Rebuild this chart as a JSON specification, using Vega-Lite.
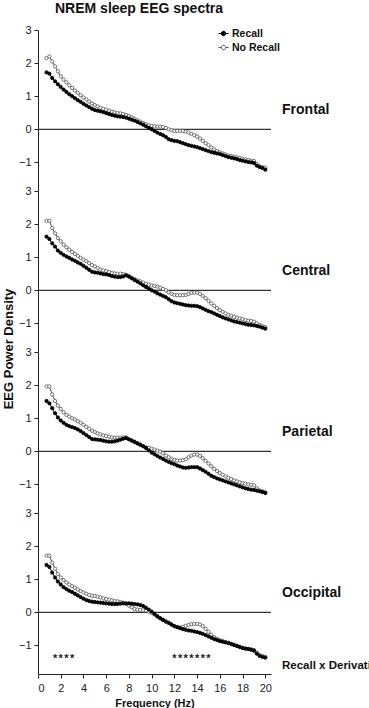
{
"$schema": "https://vega.github.io/schema/vega-lite/v6.json",
"padding": {"left": 2, "top": 2, "right": 0, "bottom": 0},
"background": "white",
"bounds": "flush",
"title": {"text": "NREM  sleep EEG spectra", "anchor": "start", "dx": 52, "fontSize": 14, "font": "Liberation Sans", "fontWeight": "bold", "color": "#111", "offset": 8},
"data": {"values": [
{"r":"Frontal","zero":0},{"r":"Central","zero":0},{"r":"Parietal","zero":0},{"r":"Occipital","zero":0},
{"r":"Frontal","f":0.75,"Recall":1.72,"No Recall":2.15},
{"r":"Frontal","f":1,"Recall":1.68,"No Recall":2.2},
{"r":"Frontal","f":1.25,"Recall":1.55,"No Recall":2.05},
{"r":"Frontal","f":1.5,"Recall":1.45,"No Recall":1.9},
{"r":"Frontal","f":1.75,"Recall":1.36,"No Recall":1.75},
{"r":"Frontal","f":2,"Recall":1.28,"No Recall":1.6},
{"r":"Frontal","f":2.25,"Recall":1.2,"No Recall":1.5},
{"r":"Frontal","f":2.5,"Recall":1.13,"No Recall":1.42},
{"r":"Frontal","f":2.75,"Recall":1.06,"No Recall":1.33},
{"r":"Frontal","f":3,"Recall":1.0,"No Recall":1.25},
{"r":"Frontal","f":3.25,"Recall":0.94,"No Recall":1.17},
{"r":"Frontal","f":3.5,"Recall":0.88,"No Recall":1.1},
{"r":"Frontal","f":3.75,"Recall":0.83,"No Recall":1.03},
{"r":"Frontal","f":4,"Recall":0.77,"No Recall":0.96},
{"r":"Frontal","f":4.25,"Recall":0.72,"No Recall":0.9},
{"r":"Frontal","f":4.5,"Recall":0.67,"No Recall":0.84},
{"r":"Frontal","f":4.75,"Recall":0.62,"No Recall":0.78},
{"r":"Frontal","f":5,"Recall":0.58,"No Recall":0.73},
{"r":"Frontal","f":5.25,"Recall":0.56,"No Recall":0.69},
{"r":"Frontal","f":5.5,"Recall":0.54,"No Recall":0.65},
{"r":"Frontal","f":5.75,"Recall":0.52,"No Recall":0.62},
{"r":"Frontal","f":6,"Recall":0.49,"No Recall":0.59},
{"r":"Frontal","f":6.25,"Recall":0.46,"No Recall":0.56},
{"r":"Frontal","f":6.5,"Recall":0.43,"No Recall":0.53},
{"r":"Frontal","f":6.75,"Recall":0.41,"No Recall":0.51},
{"r":"Frontal","f":7,"Recall":0.39,"No Recall":0.49},
{"r":"Frontal","f":7.25,"Recall":0.38,"No Recall":0.48},
{"r":"Frontal","f":7.5,"Recall":0.37,"No Recall":0.46},
{"r":"Frontal","f":7.75,"Recall":0.35,"No Recall":0.43},
{"r":"Frontal","f":8,"Recall":0.32,"No Recall":0.4},
{"r":"Frontal","f":8.25,"Recall":0.29,"No Recall":0.36},
{"r":"Frontal","f":8.5,"Recall":0.26,"No Recall":0.32},
{"r":"Frontal","f":8.75,"Recall":0.22,"No Recall":0.27},
{"r":"Frontal","f":9,"Recall":0.18,"No Recall":0.23},
{"r":"Frontal","f":9.25,"Recall":0.14,"No Recall":0.19},
{"r":"Frontal","f":9.5,"Recall":0.09,"No Recall":0.15},
{"r":"Frontal","f":9.75,"Recall":0.04,"No Recall":0.12},
{"r":"Frontal","f":10,"Recall":0.0,"No Recall":0.1},
{"r":"Frontal","f":10.25,"Recall":-0.05,"No Recall":0.09},
{"r":"Frontal","f":10.5,"Recall":-0.1,"No Recall":0.08},
{"r":"Frontal","f":10.75,"Recall":-0.14,"No Recall":0.08},
{"r":"Frontal","f":11,"Recall":-0.18,"No Recall":0.07},
{"r":"Frontal","f":11.25,"Recall":-0.23,"No Recall":0.04},
{"r":"Frontal","f":11.5,"Recall":-0.3,"No Recall":0.0},
{"r":"Frontal","f":11.75,"Recall":-0.33,"No Recall":-0.03},
{"r":"Frontal","f":12,"Recall":-0.35,"No Recall":-0.05},
{"r":"Frontal","f":12.25,"Recall":-0.36,"No Recall":-0.05},
{"r":"Frontal","f":12.5,"Recall":-0.39,"No Recall":-0.05},
{"r":"Frontal","f":12.75,"Recall":-0.42,"No Recall":-0.05},
{"r":"Frontal","f":13,"Recall":-0.45,"No Recall":-0.07},
{"r":"Frontal","f":13.25,"Recall":-0.48,"No Recall":-0.1},
{"r":"Frontal","f":13.5,"Recall":-0.5,"No Recall":-0.14},
{"r":"Frontal","f":13.75,"Recall":-0.52,"No Recall":-0.18},
{"r":"Frontal","f":14,"Recall":-0.54,"No Recall":-0.22},
{"r":"Frontal","f":14.25,"Recall":-0.57,"No Recall":-0.28},
{"r":"Frontal","f":14.5,"Recall":-0.6,"No Recall":-0.35},
{"r":"Frontal","f":14.75,"Recall":-0.63,"No Recall":-0.42},
{"r":"Frontal","f":15,"Recall":-0.66,"No Recall":-0.48},
{"r":"Frontal","f":15.25,"Recall":-0.69,"No Recall":-0.55},
{"r":"Frontal","f":15.5,"Recall":-0.71,"No Recall":-0.61},
{"r":"Frontal","f":15.75,"Recall":-0.73,"No Recall":-0.66},
{"r":"Frontal","f":16,"Recall":-0.75,"No Recall":-0.7},
{"r":"Frontal","f":16.25,"Recall":-0.78,"No Recall":-0.73},
{"r":"Frontal","f":16.5,"Recall":-0.81,"No Recall":-0.76},
{"r":"Frontal","f":16.75,"Recall":-0.84,"No Recall":-0.79},
{"r":"Frontal","f":17,"Recall":-0.86,"No Recall":-0.81},
{"r":"Frontal","f":17.25,"Recall":-0.88,"No Recall":-0.83},
{"r":"Frontal","f":17.5,"Recall":-0.9,"No Recall":-0.85},
{"r":"Frontal","f":17.75,"Recall":-0.93,"No Recall":-0.87},
{"r":"Frontal","f":18,"Recall":-0.95,"No Recall":-0.89},
{"r":"Frontal","f":18.25,"Recall":-0.97,"No Recall":-0.91},
{"r":"Frontal","f":18.5,"Recall":-0.99,"No Recall":-0.93},
{"r":"Frontal","f":18.75,"Recall":-1.0,"No Recall":-0.95},
{"r":"Frontal","f":19,"Recall":-1.02,"No Recall":-0.96},
{"r":"Frontal","f":19.25,"Recall":-1.1,"No Recall":-1.05},
{"r":"Frontal","f":19.5,"Recall":-1.14,"No Recall":-1.12},
{"r":"Frontal","f":19.75,"Recall":-1.17,"No Recall":-1.15},
{"r":"Frontal","f":20,"Recall":-1.22,"No Recall":-1.16},
{"r":"Central","f":0.75,"Recall":1.62,"No Recall":2.1},
{"r":"Central","f":1,"Recall":1.55,"No Recall":2.1},
{"r":"Central","f":1.25,"Recall":1.42,"No Recall":1.88},
{"r":"Central","f":1.5,"Recall":1.32,"No Recall":1.72},
{"r":"Central","f":1.75,"Recall":1.2,"No Recall":1.58},
{"r":"Central","f":2,"Recall":1.13,"No Recall":1.48},
{"r":"Central","f":2.25,"Recall":1.07,"No Recall":1.38},
{"r":"Central","f":2.5,"Recall":1.02,"No Recall":1.3},
{"r":"Central","f":2.75,"Recall":0.98,"No Recall":1.23},
{"r":"Central","f":3,"Recall":0.93,"No Recall":1.16},
{"r":"Central","f":3.25,"Recall":0.89,"No Recall":1.1},
{"r":"Central","f":3.5,"Recall":0.84,"No Recall":1.04},
{"r":"Central","f":3.75,"Recall":0.8,"No Recall":0.98},
{"r":"Central","f":4,"Recall":0.74,"No Recall":0.93},
{"r":"Central","f":4.25,"Recall":0.68,"No Recall":0.88},
{"r":"Central","f":4.5,"Recall":0.62,"No Recall":0.82},
{"r":"Central","f":4.75,"Recall":0.56,"No Recall":0.76},
{"r":"Central","f":5,"Recall":0.54,"No Recall":0.72},
{"r":"Central","f":5.25,"Recall":0.53,"No Recall":0.67},
{"r":"Central","f":5.5,"Recall":0.51,"No Recall":0.63},
{"r":"Central","f":5.75,"Recall":0.49,"No Recall":0.6},
{"r":"Central","f":6,"Recall":0.48,"No Recall":0.58},
{"r":"Central","f":6.25,"Recall":0.46,"No Recall":0.55},
{"r":"Central","f":6.5,"Recall":0.43,"No Recall":0.52},
{"r":"Central","f":6.75,"Recall":0.41,"No Recall":0.51},
{"r":"Central","f":7,"Recall":0.4,"No Recall":0.5},
{"r":"Central","f":7.25,"Recall":0.4,"No Recall":0.5},
{"r":"Central","f":7.5,"Recall":0.42,"No Recall":0.49},
{"r":"Central","f":7.75,"Recall":0.45,"No Recall":0.47},
{"r":"Central","f":8,"Recall":0.41,"No Recall":0.43},
{"r":"Central","f":8.25,"Recall":0.36,"No Recall":0.38},
{"r":"Central","f":8.5,"Recall":0.31,"No Recall":0.34},
{"r":"Central","f":8.75,"Recall":0.26,"No Recall":0.3},
{"r":"Central","f":9,"Recall":0.21,"No Recall":0.27},
{"r":"Central","f":9.25,"Recall":0.15,"No Recall":0.23},
{"r":"Central","f":9.5,"Recall":0.1,"No Recall":0.2},
{"r":"Central","f":9.75,"Recall":0.05,"No Recall":0.17},
{"r":"Central","f":10,"Recall":0.0,"No Recall":0.15},
{"r":"Central","f":10.25,"Recall":-0.04,"No Recall":0.13},
{"r":"Central","f":10.5,"Recall":-0.09,"No Recall":0.11},
{"r":"Central","f":10.75,"Recall":-0.13,"No Recall":0.08},
{"r":"Central","f":11,"Recall":-0.17,"No Recall":0.04},
{"r":"Central","f":11.25,"Recall":-0.21,"No Recall":0.0},
{"r":"Central","f":11.5,"Recall":-0.27,"No Recall":-0.06},
{"r":"Central","f":11.75,"Recall":-0.33,"No Recall":-0.11},
{"r":"Central","f":12,"Recall":-0.37,"No Recall":-0.14},
{"r":"Central","f":12.25,"Recall":-0.39,"No Recall":-0.15},
{"r":"Central","f":12.5,"Recall":-0.41,"No Recall":-0.15},
{"r":"Central","f":12.75,"Recall":-0.43,"No Recall":-0.15},
{"r":"Central","f":13,"Recall":-0.45,"No Recall":-0.14},
{"r":"Central","f":13.25,"Recall":-0.46,"No Recall":-0.11},
{"r":"Central","f":13.5,"Recall":-0.47,"No Recall":-0.08},
{"r":"Central","f":13.75,"Recall":-0.47,"No Recall":-0.07},
{"r":"Central","f":14,"Recall":-0.48,"No Recall":-0.07},
{"r":"Central","f":14.25,"Recall":-0.51,"No Recall":-0.11},
{"r":"Central","f":14.5,"Recall":-0.55,"No Recall":-0.17},
{"r":"Central","f":14.75,"Recall":-0.59,"No Recall":-0.24},
{"r":"Central","f":15,"Recall":-0.63,"No Recall":-0.32},
{"r":"Central","f":15.25,"Recall":-0.66,"No Recall":-0.4},
{"r":"Central","f":15.5,"Recall":-0.7,"No Recall":-0.47},
{"r":"Central","f":15.75,"Recall":-0.74,"No Recall":-0.54},
{"r":"Central","f":16,"Recall":-0.78,"No Recall":-0.6},
{"r":"Central","f":16.25,"Recall":-0.82,"No Recall":-0.65},
{"r":"Central","f":16.5,"Recall":-0.85,"No Recall":-0.7},
{"r":"Central","f":16.75,"Recall":-0.88,"No Recall":-0.74},
{"r":"Central","f":17,"Recall":-0.91,"No Recall":-0.77},
{"r":"Central","f":17.25,"Recall":-0.94,"No Recall":-0.8},
{"r":"Central","f":17.5,"Recall":-0.96,"No Recall":-0.83},
{"r":"Central","f":17.75,"Recall":-0.98,"No Recall":-0.85},
{"r":"Central","f":18,"Recall":-1.0,"No Recall":-0.87},
{"r":"Central","f":18.25,"Recall":-1.02,"No Recall":-0.9},
{"r":"Central","f":18.5,"Recall":-1.04,"No Recall":-0.92},
{"r":"Central","f":18.75,"Recall":-1.05,"No Recall":-0.93},
{"r":"Central","f":19,"Recall":-1.06,"No Recall":-0.95},
{"r":"Central","f":19.25,"Recall":-1.08,"No Recall":-1.0},
{"r":"Central","f":19.5,"Recall":-1.1,"No Recall":-1.05},
{"r":"Central","f":19.75,"Recall":-1.13,"No Recall":-1.08},
{"r":"Central","f":20,"Recall":-1.16,"No Recall":-1.11},
{"r":"Parietal","f":0.75,"Recall":1.52,"No Recall":1.96},
{"r":"Parietal","f":1,"Recall":1.45,"No Recall":1.96},
{"r":"Parietal","f":1.25,"Recall":1.3,"No Recall":1.72},
{"r":"Parietal","f":1.5,"Recall":1.15,"No Recall":1.52},
{"r":"Parietal","f":1.75,"Recall":1.02,"No Recall":1.38},
{"r":"Parietal","f":2,"Recall":0.93,"No Recall":1.28},
{"r":"Parietal","f":2.25,"Recall":0.86,"No Recall":1.18},
{"r":"Parietal","f":2.5,"Recall":0.8,"No Recall":1.1},
{"r":"Parietal","f":2.75,"Recall":0.76,"No Recall":1.05},
{"r":"Parietal","f":3,"Recall":0.73,"No Recall":1.0},
{"r":"Parietal","f":3.25,"Recall":0.7,"No Recall":0.96},
{"r":"Parietal","f":3.5,"Recall":0.66,"No Recall":0.91},
{"r":"Parietal","f":3.75,"Recall":0.61,"No Recall":0.86},
{"r":"Parietal","f":4,"Recall":0.55,"No Recall":0.8},
{"r":"Parietal","f":4.25,"Recall":0.49,"No Recall":0.74},
{"r":"Parietal","f":4.5,"Recall":0.43,"No Recall":0.68},
{"r":"Parietal","f":4.75,"Recall":0.37,"No Recall":0.62},
{"r":"Parietal","f":5,"Recall":0.36,"No Recall":0.58},
{"r":"Parietal","f":5.25,"Recall":0.35,"No Recall":0.54},
{"r":"Parietal","f":5.5,"Recall":0.34,"No Recall":0.51},
{"r":"Parietal","f":5.75,"Recall":0.32,"No Recall":0.48},
{"r":"Parietal","f":6,"Recall":0.3,"No Recall":0.46},
{"r":"Parietal","f":6.25,"Recall":0.29,"No Recall":0.44},
{"r":"Parietal","f":6.5,"Recall":0.29,"No Recall":0.42},
{"r":"Parietal","f":6.75,"Recall":0.3,"No Recall":0.41},
{"r":"Parietal","f":7,"Recall":0.32,"No Recall":0.41},
{"r":"Parietal","f":7.25,"Recall":0.35,"No Recall":0.41},
{"r":"Parietal","f":7.5,"Recall":0.38,"No Recall":0.42},
{"r":"Parietal","f":7.75,"Recall":0.4,"No Recall":0.42},
{"r":"Parietal","f":8,"Recall":0.36,"No Recall":0.37},
{"r":"Parietal","f":8.25,"Recall":0.32,"No Recall":0.33},
{"r":"Parietal","f":8.5,"Recall":0.28,"No Recall":0.29},
{"r":"Parietal","f":8.75,"Recall":0.24,"No Recall":0.24},
{"r":"Parietal","f":9,"Recall":0.2,"No Recall":0.2},
{"r":"Parietal","f":9.25,"Recall":0.15,"No Recall":0.16},
{"r":"Parietal","f":9.5,"Recall":0.1,"No Recall":0.12},
{"r":"Parietal","f":9.75,"Recall":0.03,"No Recall":0.1},
{"r":"Parietal","f":10,"Recall":-0.04,"No Recall":0.08},
{"r":"Parietal","f":10.25,"Recall":-0.09,"No Recall":0.05},
{"r":"Parietal","f":10.5,"Recall":-0.14,"No Recall":0.02},
{"r":"Parietal","f":10.75,"Recall":-0.19,"No Recall":-0.01},
{"r":"Parietal","f":11,"Recall":-0.23,"No Recall":-0.06},
{"r":"Parietal","f":11.25,"Recall":-0.28,"No Recall":-0.13},
{"r":"Parietal","f":11.5,"Recall":-0.32,"No Recall":-0.18},
{"r":"Parietal","f":11.75,"Recall":-0.36,"No Recall":-0.23},
{"r":"Parietal","f":12,"Recall":-0.39,"No Recall":-0.26},
{"r":"Parietal","f":12.25,"Recall":-0.43,"No Recall":-0.28},
{"r":"Parietal","f":12.5,"Recall":-0.46,"No Recall":-0.28},
{"r":"Parietal","f":12.75,"Recall":-0.49,"No Recall":-0.27},
{"r":"Parietal","f":13,"Recall":-0.5,"No Recall":-0.24},
{"r":"Parietal","f":13.25,"Recall":-0.49,"No Recall":-0.18},
{"r":"Parietal","f":13.5,"Recall":-0.48,"No Recall":-0.13},
{"r":"Parietal","f":13.75,"Recall":-0.48,"No Recall":-0.1},
{"r":"Parietal","f":14,"Recall":-0.48,"No Recall":-0.1},
{"r":"Parietal","f":14.25,"Recall":-0.52,"No Recall":-0.14},
{"r":"Parietal","f":14.5,"Recall":-0.57,"No Recall":-0.21},
{"r":"Parietal","f":14.75,"Recall":-0.62,"No Recall":-0.29},
{"r":"Parietal","f":15,"Recall":-0.68,"No Recall":-0.37},
{"r":"Parietal","f":15.25,"Recall":-0.74,"No Recall":-0.45},
{"r":"Parietal","f":15.5,"Recall":-0.78,"No Recall":-0.53},
{"r":"Parietal","f":15.75,"Recall":-0.82,"No Recall":-0.6},
{"r":"Parietal","f":16,"Recall":-0.85,"No Recall":-0.66},
{"r":"Parietal","f":16.25,"Recall":-0.88,"No Recall":-0.71},
{"r":"Parietal","f":16.5,"Recall":-0.91,"No Recall":-0.76},
{"r":"Parietal","f":16.75,"Recall":-0.94,"No Recall":-0.8},
{"r":"Parietal","f":17,"Recall":-0.97,"No Recall":-0.84},
{"r":"Parietal","f":17.25,"Recall":-1.0,"No Recall":-0.88},
{"r":"Parietal","f":17.5,"Recall":-1.03,"No Recall":-0.91},
{"r":"Parietal","f":17.75,"Recall":-1.06,"No Recall":-0.94},
{"r":"Parietal","f":18,"Recall":-1.09,"No Recall":-0.96},
{"r":"Parietal","f":18.25,"Recall":-1.12,"No Recall":-0.98},
{"r":"Parietal","f":18.5,"Recall":-1.14,"No Recall":-1.0},
{"r":"Parietal","f":18.75,"Recall":-1.16,"No Recall":-1.01},
{"r":"Parietal","f":19,"Recall":-1.17,"No Recall":-1.03},
{"r":"Parietal","f":19.25,"Recall":-1.19,"No Recall":-1.12},
{"r":"Parietal","f":19.5,"Recall":-1.21,"No Recall":-1.18},
{"r":"Parietal","f":19.75,"Recall":-1.23,"No Recall":-1.21},
{"r":"Parietal","f":20,"Recall":-1.26,"No Recall":-1.24},
{"r":"Occipital","f":0.75,"Recall":1.43,"No Recall":1.71},
{"r":"Occipital","f":1,"Recall":1.37,"No Recall":1.71},
{"r":"Occipital","f":1.25,"Recall":1.2,"No Recall":1.5},
{"r":"Occipital","f":1.5,"Recall":1.05,"No Recall":1.32},
{"r":"Occipital","f":1.75,"Recall":0.93,"No Recall":1.16},
{"r":"Occipital","f":2,"Recall":0.84,"No Recall":1.05},
{"r":"Occipital","f":2.25,"Recall":0.76,"No Recall":0.97},
{"r":"Occipital","f":2.5,"Recall":0.7,"No Recall":0.9},
{"r":"Occipital","f":2.75,"Recall":0.65,"No Recall":0.84},
{"r":"Occipital","f":3,"Recall":0.61,"No Recall":0.79},
{"r":"Occipital","f":3.25,"Recall":0.56,"No Recall":0.74},
{"r":"Occipital","f":3.5,"Recall":0.51,"No Recall":0.69},
{"r":"Occipital","f":3.75,"Recall":0.46,"No Recall":0.64},
{"r":"Occipital","f":4,"Recall":0.41,"No Recall":0.6},
{"r":"Occipital","f":4.25,"Recall":0.37,"No Recall":0.56},
{"r":"Occipital","f":4.5,"Recall":0.34,"No Recall":0.52},
{"r":"Occipital","f":4.75,"Recall":0.32,"No Recall":0.5},
{"r":"Occipital","f":5,"Recall":0.31,"No Recall":0.49},
{"r":"Occipital","f":5.25,"Recall":0.3,"No Recall":0.47},
{"r":"Occipital","f":5.5,"Recall":0.29,"No Recall":0.45},
{"r":"Occipital","f":5.75,"Recall":0.28,"No Recall":0.42},
{"r":"Occipital","f":6,"Recall":0.27,"No Recall":0.4},
{"r":"Occipital","f":6.25,"Recall":0.26,"No Recall":0.38},
{"r":"Occipital","f":6.5,"Recall":0.25,"No Recall":0.36},
{"r":"Occipital","f":6.75,"Recall":0.25,"No Recall":0.34},
{"r":"Occipital","f":7,"Recall":0.25,"No Recall":0.33},
{"r":"Occipital","f":7.25,"Recall":0.26,"No Recall":0.31},
{"r":"Occipital","f":7.5,"Recall":0.27,"No Recall":0.29},
{"r":"Occipital","f":7.75,"Recall":0.27,"No Recall":0.25},
{"r":"Occipital","f":8,"Recall":0.27,"No Recall":0.2},
{"r":"Occipital","f":8.25,"Recall":0.26,"No Recall":0.15},
{"r":"Occipital","f":8.5,"Recall":0.25,"No Recall":0.1},
{"r":"Occipital","f":8.75,"Recall":0.24,"No Recall":0.08},
{"r":"Occipital","f":9,"Recall":0.22,"No Recall":0.07},
{"r":"Occipital","f":9.25,"Recall":0.19,"No Recall":0.06},
{"r":"Occipital","f":9.5,"Recall":0.14,"No Recall":0.05},
{"r":"Occipital","f":9.75,"Recall":0.08,"No Recall":0.02},
{"r":"Occipital","f":10,"Recall":0.02,"No Recall":-0.02},
{"r":"Occipital","f":10.25,"Recall":-0.05,"No Recall":-0.07},
{"r":"Occipital","f":10.5,"Recall":-0.12,"No Recall":-0.13},
{"r":"Occipital","f":10.75,"Recall":-0.18,"No Recall":-0.18},
{"r":"Occipital","f":11,"Recall":-0.23,"No Recall":-0.23},
{"r":"Occipital","f":11.25,"Recall":-0.28,"No Recall":-0.28},
{"r":"Occipital","f":11.5,"Recall":-0.32,"No Recall":-0.32},
{"r":"Occipital","f":11.75,"Recall":-0.37,"No Recall":-0.37},
{"r":"Occipital","f":12,"Recall":-0.42,"No Recall":-0.42},
{"r":"Occipital","f":12.25,"Recall":-0.45,"No Recall":-0.45},
{"r":"Occipital","f":12.5,"Recall":-0.48,"No Recall":-0.46},
{"r":"Occipital","f":12.75,"Recall":-0.51,"No Recall":-0.44},
{"r":"Occipital","f":13,"Recall":-0.53,"No Recall":-0.41},
{"r":"Occipital","f":13.25,"Recall":-0.55,"No Recall":-0.38},
{"r":"Occipital","f":13.5,"Recall":-0.56,"No Recall":-0.36},
{"r":"Occipital","f":13.75,"Recall":-0.58,"No Recall":-0.35},
{"r":"Occipital","f":14,"Recall":-0.6,"No Recall":-0.35},
{"r":"Occipital","f":14.25,"Recall":-0.62,"No Recall":-0.37},
{"r":"Occipital","f":14.5,"Recall":-0.65,"No Recall":-0.42},
{"r":"Occipital","f":14.75,"Recall":-0.69,"No Recall":-0.5},
{"r":"Occipital","f":15,"Recall":-0.73,"No Recall":-0.59},
{"r":"Occipital","f":15.25,"Recall":-0.77,"No Recall":-0.68},
{"r":"Occipital","f":15.5,"Recall":-0.81,"No Recall":-0.75},
{"r":"Occipital","f":15.75,"Recall":-0.84,"No Recall":-0.8},
{"r":"Occipital","f":16,"Recall":-0.87,"No Recall":-0.84},
{"r":"Occipital","f":16.25,"Recall":-0.89,"No Recall":-0.87},
{"r":"Occipital","f":16.5,"Recall":-0.91,"No Recall":-0.9},
{"r":"Occipital","f":16.75,"Recall":-0.93,"No Recall":-0.92},
{"r":"Occipital","f":17,"Recall":-0.96,"No Recall":-0.95},
{"r":"Occipital","f":17.25,"Recall":-0.99,"No Recall":-0.98},
{"r":"Occipital","f":17.5,"Recall":-1.02,"No Recall":-1.01},
{"r":"Occipital","f":17.75,"Recall":-1.05,"No Recall":-1.04},
{"r":"Occipital","f":18,"Recall":-1.08,"No Recall":-1.07},
{"r":"Occipital","f":18.25,"Recall":-1.1,"No Recall":-1.09},
{"r":"Occipital","f":18.5,"Recall":-1.11,"No Recall":-1.11},
{"r":"Occipital","f":18.75,"Recall":-1.13,"No Recall":-1.12},
{"r":"Occipital","f":19,"Recall":-1.16,"No Recall":-1.14},
{"r":"Occipital","f":19.25,"Recall":-1.25,"No Recall":-1.22},
{"r":"Occipital","f":19.5,"Recall":-1.32,"No Recall":-1.29},
{"r":"Occipital","f":19.75,"Recall":-1.35,"No Recall":-1.32},
{"r":"Occipital","f":20,"Recall":-1.37,"No Recall":-1.35},
{"r":"Occipital","sf":1.5},
{"r":"Occipital","sf":2},
{"r":"Occipital","sf":2.5},
{"r":"Occipital","sf":3},
{"r":"Occipital","sf":12},
{"r":"Occipital","sf":12.5},
{"r":"Occipital","sf":13},
{"r":"Occipital","sf":13.5},
{"r":"Occipital","sf":14},
{"r":"Occipital","sf":14.5},
{"r":"Occipital","sf":15},
{"r":"Occipital","note":"Recall x Derivation"}
]},
"facet": {"row": {"field": "r", "type": "nominal", "sort": ["Frontal", "Central", "Parietal", "Occipital"],
  "header": {"title": "EEG Power Density", "titleOrient": "left", "titleAngle": 270, "titleFont": "Liberation Sans", "titleFontSize": 13, "titleFontWeight": "bold", "titleColor": "#111", "titlePadding": -1, "labels": false}}},
"spacing": 0,
"resolve": {"axis": {"y": "independent"}},
"spec": {
  "width": 233, "height": 160.5,
  "layer": [
    {"transform": [{"filter": "isValid(datum.zero)"}],
     "mark": {"type": "rule", "color": "#333", "strokeWidth": 1.2},
     "encoding": {"y": {"field": "zero", "type": "quantitative", "scale": {"domain": [-1.85, 3], "nice": false}, "axis": {"values": [-1, 0, 1, 2, 3], "tickCount": 30, "format": "d", "labelOverlap": false}, "title": null}}},
    {"transform": [{"filter": "isValid(datum.zero)"}],
     "mark": {"type": "text", "align": "left", "baseline": "middle", "font": "Liberation Sans", "fontSize": 14, "fontWeight": "bold", "color": "#111"},
     "encoding": {"x": {"datum": 21.47, "type": "quantitative"}, "y": {"datum": 0.58, "type": "quantitative"}, "text": {"field": "r"}}},
    {"transform": [{"filter": "isValid(datum.f)"}],
     "mark": {"type": "line", "color": "#555", "strokeWidth": 1},
     "encoding": {
       "x": {"field": "f", "type": "quantitative", "scale": {"domain": [0, 20.5], "nice": false}, "axis": {"values": [0, 2, 4, 6, 8, 10, 12, 14, 16, 18, 20], "tickCount": 30, "format": "d", "labelOverlap": false, "labelPadding": 4}, "title": "Frequency (Hz)"},
       "y": {"field": "No Recall", "type": "quantitative", "title": null}}},
    {"transform": [{"filter": "isValid(datum.f)"}],
     "mark": {"type": "line", "color": "#000", "strokeWidth": 1},
     "encoding": {
       "x": {"field": "f", "type": "quantitative", "title": "Frequency (Hz)"},
       "y": {"field": "Recall", "type": "quantitative", "title": null}}},
    {"transform": [{"filter": "isValid(datum.f)"}, {"fold": ["No Recall"], "as": ["g", "v"]}],
     "mark": {"type": "point", "shape": "circle", "size": 11, "strokeWidth": 0.8, "opacity": 1, "filled": true},
     "encoding": {
       "x": {"field": "f", "type": "quantitative", "title": "Frequency (Hz)"},
       "y": {"field": "v", "type": "quantitative", "title": null},
       "fill": {"field": "g", "type": "nominal", "scale": {"domain": ["Recall", "No Recall"], "range": ["#000", "#fff"]}, "legend": {"title": null, "orient": "none", "legendX": 180, "legendY": -2}},
       "stroke": {"field": "g", "type": "nominal", "scale": {"domain": ["Recall", "No Recall"], "range": ["#000", "#555"]}, "legend": {"title": null, "orient": "none", "legendX": 180, "legendY": -2}}}},
    {"transform": [{"filter": "isValid(datum.f)"}, {"fold": ["Recall"], "as": ["g", "v"]}],
     "mark": {"type": "point", "shape": "circle", "size": 11, "strokeWidth": 0.8, "opacity": 1, "filled": true},
     "encoding": {
       "x": {"field": "f", "type": "quantitative", "title": "Frequency (Hz)"},
       "y": {"field": "v", "type": "quantitative", "title": null},
       "fill": {"field": "g", "type": "nominal", "scale": {"domain": ["Recall", "No Recall"], "range": ["#000", "#fff"]}, "legend": {"title": null, "orient": "none", "legendX": 180, "legendY": -2}},
       "stroke": {"field": "g", "type": "nominal", "scale": {"domain": ["Recall", "No Recall"], "range": ["#000", "#555"]}, "legend": {"title": null, "orient": "none", "legendX": 180, "legendY": -2}}}},
    {"transform": [{"filter": "isValid(datum.sf)"}],
     "mark": {"type": "text", "text": "*", "font": "Liberation Sans", "fontSize": 11, "fontWeight": "bold", "color": "#222", "baseline": "middle", "align": "center"},
     "encoding": {
       "x": {"field": "sf", "type": "quantitative", "title": "Frequency (Hz)"},
       "y": {"datum": -1.42, "type": "quantitative", "title": null}}},
    {"transform": [{"filter": "isValid(datum.note)"}],
     "mark": {"type": "text", "font": "Liberation Sans", "fontSize": 11.5, "fontWeight": "bold", "color": "#111", "baseline": "middle", "align": "left"},
     "encoding": {
       "x": {"datum": 21.47, "type": "quantitative", "title": "Frequency (Hz)"},
       "y": {"datum": -1.62, "type": "quantitative", "title": null},
       "text": {"field": "note"}}}
  ]
},
"config": {
  "view": {"stroke": null},
  "axis": {"grid": false, "labelOverlap": false, "domainColor": "#222", "tickColor": "#222", "tickSize": 4, "labelFont": "Liberation Sans", "labelFontSize": 11, "labelColor": "#222", "titleFont": "Liberation Sans", "titleFontSize": 11, "titleFontWeight": "bold", "titleColor": "#111", "labelPadding": 3, "titlePadding": 4},
  "legend": {"symbolType": "M-1,0L-0.45,0M0.45,0L1,0M-0.45,0A0.45,0.45,0,1,1,0.45,0A0.45,0.45,0,1,1,-0.45,0Z", "symbolSize": 100, "symbolStrokeWidth": 1, "labelFont": "Liberation Sans", "labelFontSize": 10.5, "labelFontWeight": "bold", "labelColor": "#111", "labelOffset": 3, "rowPadding": 3}
}
}
